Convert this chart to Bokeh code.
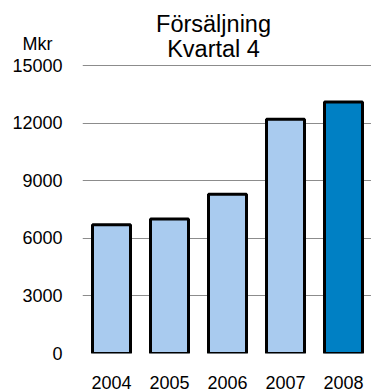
from bokeh.plotting import figure
from bokeh.models import ColumnDataSource, Range1d, FixedTicker, Label
from bokeh.embed import file_html
from bokeh.resources import INLINE

# Quarter 4 sales per year, in Mkr
years = ["2004", "2005", "2006", "2007", "2008"]
sales = [6700, 7000, 8300, 12200, 13100]
y_ticks = [0, 3000, 6000, 9000, 12000, 15000]
title_lines = ["Försäljning", "Kvartal 4"]
unit = "Mkr"

LIGHT = "#A9CBEF"
DARK = "#0080C4"
bar_colors = [LIGHT, LIGHT, LIGHT, LIGHT, DARK]

FONT = "Liberation Sans"

# plot geometry: the frame runs to the top of the canvas so the title
# can live inside it; 15000 sits PX_AXIS px above the frame bottom
FRAME_W, FRAME_H = 289, 353
PX_AXIS = 288
Y_TOP = 15000 * FRAME_H / PX_AXIS


def y_at(px_from_top):
    """data y for a pixel row measured from the top of the frame"""
    return (FRAME_H - px_from_top) / FRAME_H * Y_TOP


src = ColumnDataSource(dict(
    x=list(range(len(years))),
    year=years,
    sales=sales,
    color=bar_colors,
))

p = figure(
    frame_width=FRAME_W, frame_height=FRAME_H,
    min_border_left=82, min_border_right=0, min_border_top=0, min_border_bottom=0,
    x_range=Range1d(-0.5, 4.483), y_range=Range1d(0, Y_TOP),
    output_backend="svg", toolbar_location=None,
)
p.outline_line_color = None
p.background_fill_color = "white"
p.border_fill_color = "white"

p.vbar(x="x", top="sales", bottom=0, width=0.655, source=src,
       fill_color="color", line_color="black", line_width=3)

# x axis: year labels under each bar
p.xaxis.ticker = FixedTicker(ticks=list(range(len(years))))
p.xaxis.major_label_overrides = {i: y for i, y in enumerate(years)}

# y axis: value ticks plus the unit written above the top tick
unit_y = int(round(y_at(44)))
p.yaxis.ticker = FixedTicker(ticks=y_ticks + [unit_y])
p.yaxis.major_label_overrides = {unit_y: unit + "\u00a0\u00a0"}

for ax in (p.xaxis[0], p.yaxis[0]):
    ax.axis_line_color = None
    ax.major_tick_line_color = None
    ax.minor_tick_line_color = None
    ax.major_tick_out = 0
    ax.major_tick_in = 0
    ax.minor_tick_out = 0
    ax.major_label_text_font = FONT
    ax.major_label_text_font_size = "18px"
    ax.major_label_text_color = "black"
p.yaxis.major_label_standoff = 20
p.xaxis.major_label_standoff = 22

p.xgrid.grid_line_color = None
p.ygrid.ticker = FixedTicker(ticks=y_ticks)
p.ygrid.grid_line_color = "#8C8C8C"
p.ygrid.grid_line_width = 1

# two-line chart title
for txt, row in zip(title_lines, (23.7, 48.0)):
    p.add_layout(Label(x=1.759, y=y_at(row), text=txt, text_align="center",
                       text_baseline="middle", text_font=FONT,
                       text_font_size="23.5px", text_color="black"))

open("out.html", "w").write(file_html(p, INLINE))
